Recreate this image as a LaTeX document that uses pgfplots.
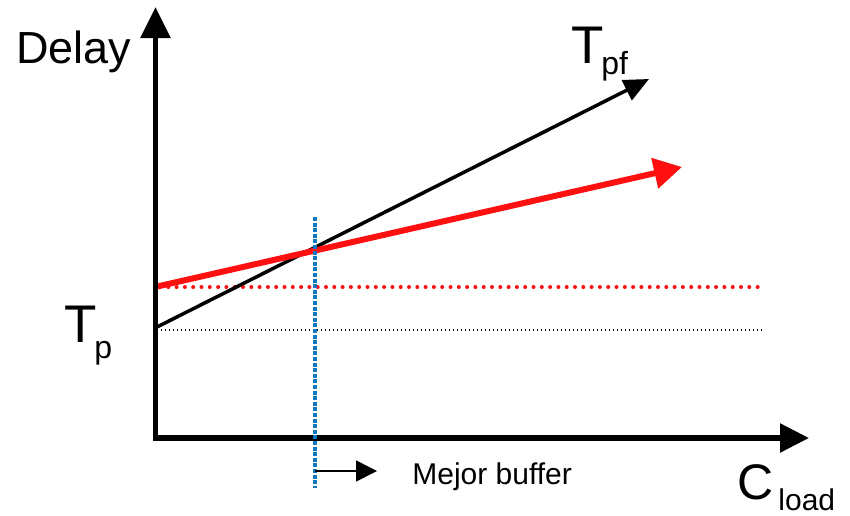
\documentclass[border=0pt]{standalone}
\usepackage{pgfplots}
\pgfplotsset{compat=1.18}
\usepackage{fontspec}
\setmainfont{Liberation Sans}
\usetikzlibrary{arrows.meta}
\definecolor{myblue}{RGB}{16,120,190}
\definecolor{myred}{RGB}{255,16,16}
\begin{document}
\begin{tikzpicture}
\begin{axis}[
  scale only axis, width=425pt, height=257.5pt,
  xmin=0, xmax=850, ymin=0, ymax=515, y dir=reverse,
  hide axis, clip=false,
]
\addplot[draw=none] coordinates {(0,0) (850,515)};
% horizontal reference lines
\addplot[black, line width=0.6pt, dash pattern=on 0.6pt off 1.4pt] coordinates {(157,330) (762,330)};
\addplot[myred, line width=2pt, line cap=round, dash pattern=on 0pt off 4.15pt] coordinates {(160,287) (762,287)};
% T_pf line
\addplot[black, line width=1.75pt, -{Triangle[length=12.5pt,width=11pt]}] coordinates {(155,328) (649,79)};
% red line
\addplot[myred, line width=3pt, -{Triangle[length=14pt,width=15pt]}] coordinates {(155,287) (682,167)};
% axes
\addplot[black, line width=2.75pt, -{Triangle[length=15.5pt,width=14.5pt]}] coordinates {(155.5,440.5) (155.5,7)};
\addplot[black, line width=2.75pt, -{Triangle[length=14.5pt,width=14pt]}] coordinates {(153,438) (809,438)};
% blue vertical
\addplot[myblue, line width=1.7pt, dash pattern=on 2pt off 0.8pt] coordinates {(315,217) (315,488)};
% small arrow
\addplot[black, line width=0.8pt, -{Triangle[length=10.5pt,width=10.5pt]}] coordinates {(315,471) (377,471)};
% texts
\node[anchor=base west, inner sep=0pt, font=\fontsize{22.5}{22.5}\selectfont] at (axis cs:16,63) {Delay};
\node[anchor=base west, inner sep=0pt, font=\fontsize{26.5}{26.5}\selectfont] at (axis cs:64,342) {T};
\node[anchor=base west, inner sep=0pt, font=\fontsize{16}{16}\selectfont] at (axis cs:94,358) {p};
\node[anchor=base west, inner sep=0pt, font=\fontsize{26.5}{26.5}\selectfont] at (axis cs:571,63) {T};
\node[anchor=base west, inner sep=0pt, font=\fontsize{16}{16}\selectfont] at (axis cs:601,74) {pf};
\node[anchor=base west, inner sep=0pt, font=\fontsize{25}{25}\selectfont] at (axis cs:737,499) {C};
\node[anchor=base west, inner sep=0pt, font=\fontsize{15}{15}\selectfont] at (axis cs:778,510) {load};
\node[anchor=base west, inner sep=0pt, font=\fontsize{15}{15}\selectfont] at (axis cs:412,484) {Mejor buffer};
\end{axis}
\pgfresetboundingbox
\path (current axis.south west) rectangle (current axis.north east);
\end{tikzpicture}
\end{document}
